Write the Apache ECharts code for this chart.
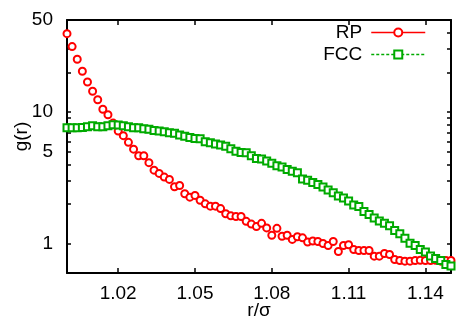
<!DOCTYPE html>
<html>
<head>
<meta charset="utf-8">
<script src="https://cdn.jsdelivr.net/npm/echarts@6/dist/echarts.min.js"></script>
<style>
  html, body { margin: 0; padding: 0; background: #fff; }
  #chart { width: 463px; height: 324px; }
</style>
</head>
<body>
<div id="chart"></div>
<script>
  // r/sigma grid shared by both curves
  const rValues = [
    1.000, 1.002, 1.004, 1.006, 1.008, 1.010, 1.012, 1.014, 1.016, 1.018,
    1.020, 1.022, 1.024, 1.026, 1.028, 1.030, 1.032, 1.034, 1.036, 1.038,
    1.040, 1.042, 1.044, 1.046, 1.048, 1.050, 1.052, 1.054, 1.056, 1.058,
    1.060, 1.062, 1.064, 1.066, 1.068, 1.070, 1.072, 1.074, 1.076, 1.078,
    1.080, 1.082, 1.084, 1.086, 1.088, 1.090, 1.092, 1.094, 1.096, 1.098,
    1.100, 1.102, 1.104, 1.106, 1.108, 1.110, 1.112, 1.114, 1.116, 1.118,
    1.120, 1.122, 1.124, 1.126, 1.128, 1.130, 1.132, 1.134, 1.136, 1.138,
    1.140, 1.142, 1.144, 1.146, 1.148, 1.150
  ]
  const gRP = [
    39.4, 31.4, 25.2, 20.4, 16.9, 14.4, 12.4, 10.5, 9.55, 8.25,
    7.17, 6.62, 5.89, 5.23, 4.66, 4.66, 4.13, 3.62, 3.42, 3.21,
    3.08, 2.71, 2.77, 2.40, 2.26, 2.33, 2.14, 2.01, 1.93, 1.93,
    1.85, 1.69, 1.63, 1.61, 1.61, 1.48, 1.41, 1.35, 1.43, 1.32,
    1.16, 1.31, 1.14, 1.16, 1.08, 1.13, 1.11, 1.03, 1.05, 1.04,
    1.005, 0.97, 1.04, 0.874, 0.97, 0.983, 0.905, 0.889, 0.889, 0.889,
    0.805, 0.805, 0.844, 0.829, 0.760, 0.747, 0.738, 0.738, 0.747, 0.750,
    0.747, 0.747, 0.750, 0.738, 0.747, 0.747
  ]
  const gFCC = [
    7.59, 7.59, 7.61, 7.65, 7.72, 7.86, 7.72, 7.72, 7.86, 8.02,
    7.99, 7.86, 7.72, 7.59, 7.59, 7.48, 7.39, 7.26, 7.17, 7.10,
    6.98, 6.89, 6.71, 6.54, 6.42, 6.31, 6.26, 5.94, 5.85, 5.73,
    5.63, 5.51, 5.27, 5.05, 4.94, 4.90, 4.65, 4.45, 4.41, 4.26,
    4.08, 3.91, 3.83, 3.67, 3.56, 3.46, 3.11, 3.03, 2.92, 2.82,
    2.70, 2.56, 2.44, 2.31, 2.23, 2.11, 1.97, 1.92, 1.76, 1.67,
    1.57, 1.49, 1.43, 1.37, 1.26, 1.19, 1.10, 1.01, 0.97, 0.905,
    0.866, 0.808, 0.773, 0.747, 0.696, 0.678
  ]
  const xTicks = [1.02, 1.05, 1.08, 1.11, 1.14]
  const yLabels = [1, 5, 10, 50]
  const yTicks = [1, 2, 3, 4, 5, 6, 7, 8, 9, 10, 20, 30, 40, 50]

  const font = 'Liberation Sans'
  const axisLine = {show: true, lineStyle: {color: '#000', width: 2}}
  const tickStyle = {color: '#000', width: 1.5}

  let chart = echarts.init(document.getElementById('chart'), null, {renderer: 'canvas'})
  chart.setOption({
    animation: false,
    textStyle: {fontFamily: font},
    grid: {left: 67, right: 12, top: 20, bottom: 51, outerBoundsMode: 'none', containLabel: false},
    legend: {
      orient: 'vertical',
      right: 32,
      top: 18,
      align: 'right',
      itemWidth: 54,
      itemHeight: 10,
      itemGap: 3,
      textStyle: {fontFamily: font, fontSize: 19, color: '#000', padding: [0, 4, 0, 0]},
      data: [
        {name: 'RP', lineStyle: {opacity: 1, width: 1.5, type: 'solid', color: '#ff0000'}},
        {name: 'FCC', lineStyle: {opacity: 1, width: 1.5, type: [3, 2], color: '#00aa00'}}
      ]
    },
    xAxis: [{
      type: 'value',
      min: 1.0,
      max: 1.15,
      name: 'r/σ',
      nameLocation: 'middle',
      nameGap: 28,
      nameMoveOverlap: false,
      nameTextStyle: {fontFamily: font, fontSize: 19, color: '#000'},
      axisLine: axisLine,
      axisTick: {inside: true, length: 5, customValues: xTicks, lineStyle: tickStyle},
      axisLabel: {customValues: xTicks, margin: 11, fontSize: 19, color: '#000', fontFamily: font,
        formatter: v => v.toFixed(2)},
      splitLine: {show: false}
    }, {
      type: 'value',
      position: 'top',
      min: 1.0,
      max: 1.15,
      axisLine: axisLine,
      axisTick: {inside: true, length: 5, customValues: xTicks, lineStyle: tickStyle},
      axisLabel: {show: false},
      splitLine: {show: false}
    }],
    yAxis: [{
      type: 'log',
      logBase: 10,
      min: 0.6,
      max: 50,
      name: 'g(r)',
      nameLocation: 'middle',
      nameGap: 36,
      nameMoveOverlap: false,
      nameTextStyle: {fontFamily: font, fontSize: 19, color: '#000', padding: [0, 0, 0, 20]},
      axisLine: axisLine,
      axisTick: {inside: true, length: 4, customValues: yTicks, lineStyle: tickStyle},
      axisLabel: {customValues: yLabels, margin: 14, fontSize: 19, color: '#000', fontFamily: font},
      splitLine: {show: false}
    }, {
      type: 'log',
      logBase: 10,
      position: 'right',
      min: 0.6,
      max: 50,
      axisLine: axisLine,
      axisTick: {inside: true, length: 4, customValues: yTicks, lineStyle: tickStyle},
      axisLabel: {show: false},
      splitLine: {show: false}
    }],
    series: [{
      type: 'line',
      name: 'RP',
      symbol: 'emptyCircle',
      symbolSize: 7,
      showAllSymbol: true,
      itemStyle: {color: '#ff0000', borderWidth: 2.2},
      lineStyle: {opacity: 0},
      data: rValues.map((r, i) => [r, gRP[i]])
    }, {
      type: 'line',
      name: 'FCC',
      symbol: 'emptyRect',
      symbolSize: 7,
      showAllSymbol: true,
      itemStyle: {color: '#00aa00', borderWidth: 2.2},
      lineStyle: {opacity: 0},
      data: rValues.map((r, i) => [r, gFCC[i]])
    }]
  })
</script>
</body>
</html>
